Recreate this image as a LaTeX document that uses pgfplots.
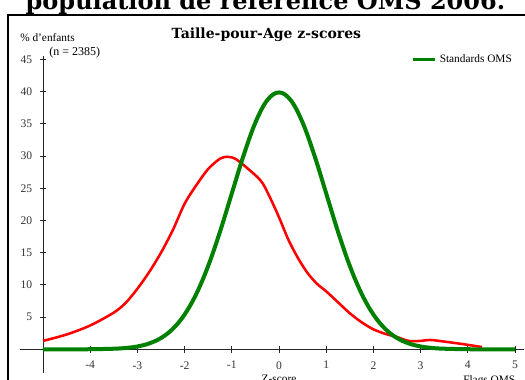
\documentclass[border=0pt]{standalone}
\usepackage{fontspec}
\setmainfont{Liberation Serif}
\newfontfamily\dvs{DejaVu Serif}
\usepackage{pgfplots}
\pgfplotsset{compat=1.18}
\definecolor{omsgreen}{RGB}{0,128,0}
\definecolor{obsred}{RGB}{255,0,0}
\pgfplotstableread{
z v
-5 1.3
-4.5 2.3
-4 3.7
-3.5 5.7
-3.25 7.2
-3 9.4
-2.75 12.0
-2.5 15.0
-2.25 18.5
-2 22.6
-1.75 25.5
-1.5 28.0
-1.25 29.6
-1.1 29.9
-1.0 29.8
-0.85 29.2
-0.4 26.3
-0.2 23.7
0 20.5
0.2 17.0
0.4 14.2
0.6 11.9
0.8 10.2
1.0 9.0
1.25 7.3
1.5 5.6
1.75 4.2
2 3.1
2.25 2.4
2.5 1.9
2.75 1.3
3 1.3
3.2 1.45
3.5 1.2
3.9 0.8
4.3 0.35
}\observed
\pgfplotstableread{
z v
-5 0.0
-4.5 0.0
-4 0.01
-3.5 0.09
-3.25 0.2
-3 0.44
-2.75 0.91
-2.5 1.75
-2.25 3.17
-2 5.40
-1.75 8.63
-1.5 12.95
-1.25 18.26
-1 24.20
-0.75 30.11
-0.5 35.21
-0.25 38.67
0 39.89
0.25 38.67
0.5 35.21
0.75 30.11
1 24.20
1.25 18.26
1.5 12.95
1.75 8.63
2 5.40
2.25 3.17
2.5 1.75
2.75 0.91
3 0.44
3.25 0.2
3.5 0.09
4 0.01
4.5 0.0
5 0.0
}\standard
\begin{document}
\begin{tikzpicture}
\path[use as bounding box] (0,0) rectangle (393.75pt,284.25pt);
% frame
\draw[line width=1.1pt] (6pt,-5pt) -- (6pt,273pt) -- (400pt,273pt);
% big cropped title
\node[font=\dvs\bfseries\fontsize{18}{21}\selectfont, anchor=base, inner sep=0pt] at (199.1pt,276.75pt) {population de référence OMS 2006.};
\begin{axis}[
  x=35.4pt, y=4.83pt,
  anchor=origin, at={(209.25pt,22.28pt)},
  xmin=-5, xmax=5.2, ymin=-3.7, ymax=45.6,
  axis x line=middle, axis y line=left,
  axis line style={-, line width=0.6pt, black!85},
  every tick/.style={black!85, line width=0.6pt},
  tick align=center, major tick length=5pt,
  xtick={-4,-3,-2,-1,0,1,2,3,4,5},
  xticklabels={-4,-3,-2,-1,0,1,2,3,4,5},
  ytick={5,10,15,20,25,30,35,40,45},
  /pgf/number format/assume math mode=true,
  tick label style={font=\fontsize{8.7}{10}\selectfont, text=black!80},
  xticklabel style={yshift=-3pt},
  yticklabel style={xshift=-2pt},
  clip=false,
  legend style={draw=none, fill=none, at={(axis cs:2.79,45)}, anchor=west, inner sep=0pt,
    font=\fontsize{8.5}{10}\selectfont},
  legend image code/.code={\draw[#1, line width=2.6pt] (0pt,0pt) -- (17pt,0pt);},
]
\addplot[obsred, line width=1.9pt, smooth, tension=0.5, forget plot] table[x=z, y=v] {\observed};
\addplot[omsgreen, line width=3pt, smooth, tension=0.6] table[x=z, y=v] {\standard};
\addlegendentry{Standards OMS}
\draw[line width=0.6pt, black!85] (axis cs:-5.49,0) -- (axis cs:-5,0);
\end{axis}
\node[anchor=west, font=\fontsize{8.5}{10}\selectfont, inner sep=0pt] at (15pt,256pt) {\% d'enfants};
\node[anchor=west, font=\fontsize{9}{10}\selectfont, inner sep=0pt] at (36.75pt,244.7pt) {(n = 2385)};
\node[font=\dvs\bfseries\fontsize{10.5}{12}\selectfont, inner sep=0pt] at (199.8pt,258pt) {Taille-pour-Age z-scores};
\node[anchor=north, font=\fontsize{8.5}{10}\selectfont, inner sep=0pt] at (209.25pt,3pt) {Z-score};
\node[anchor=north west, font=\fontsize{8.5}{10}\selectfont, inner sep=0pt] at (347.25pt,3pt) {Flags OMS};
\end{tikzpicture}
\end{document}
